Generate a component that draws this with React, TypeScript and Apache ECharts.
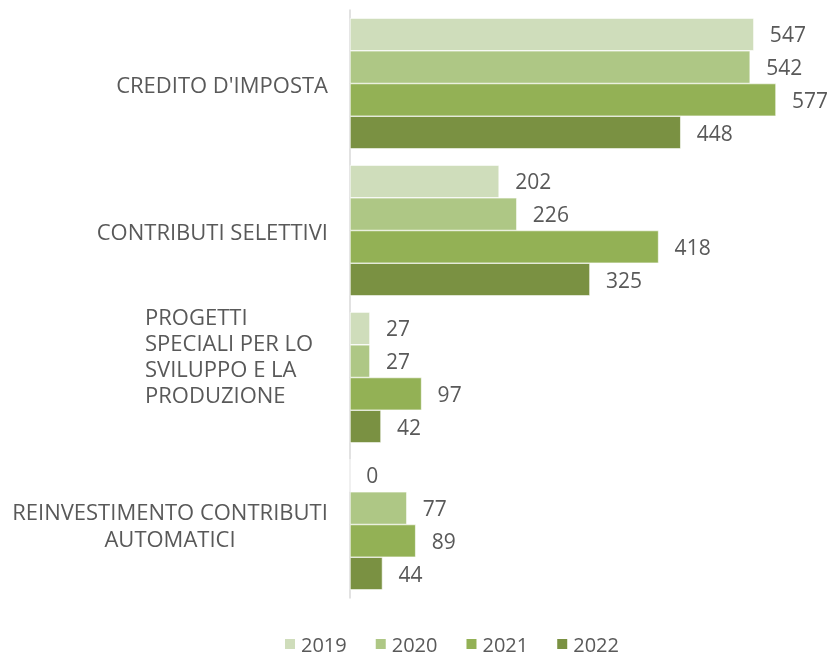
import React, { useEffect, useRef } from "react";
import * as echarts from "echarts";

const categories = [
  "CREDITO D'IMPOSTA",
  "CONTRIBUTI SELETTIVI",
  "PROGETTI SPECIALI PER LO SVILUPPO E LA PRODUZIONE",
  "REINVESTIMENTO CONTRIBUTI AUTOMATICI",
];
const years = ["2019", "2020", "2021", "2022"];
const values2019 = [547, 202, 27, 0];
const values2020 = [542, 226, 27, 77];
const values2021 = [577, 418, 97, 89];
const values2022 = [448, 325, 42, 44];
const colors = ["#CFDDBB", "#AEC785", "#93B155", "#7A9142"];

const FONT = "'Open Sans', sans-serif";
const TEXT = "#595959";

export default function App() {
  const ref = useRef<HTMLDivElement>(null);
  useEffect(() => {
    if (!ref.current) return;
    const chart = echarts.init(ref.current, undefined, { renderer: "svg" });
    const allValues = [values2019, values2020, values2021, values2022];
    chart.setOption({
      animation: false,
      grid: { left: 350, right: 38, top: 10, bottom: 59, containLabel: false },
      legend: {
        top: 634,
        left: 283,
        itemWidth: 12,
        itemHeight: 12,
        itemGap: 27,
        padding: 0,
        icon: "rect",
        textStyle: { fontFamily: FONT, fontSize: 20, color: TEXT, lineHeight: 18 },
        data: years,
      },
      xAxis: {
        type: "value",
        min: 0,
        max: 600,
        show: false,
      },
      yAxis: {
        type: "category",
        inverse: true,
        data: categories.map((c, i) =>
          i === 2 ? { value: c, textStyle: { padding: [0, 0, 46, 0] } } : c
        ),
        axisLine: { show: true, lineStyle: { color: "#D9D9D9", width: 1.5 } },
        axisTick: { show: false },
        axisLabel: {
          margin: 22,
          fontFamily: FONT,
          fontSize: 22,
          color: TEXT,
          lineHeight: 26,
          formatter: (v: string, i: number) => {
            if (i === 2) return "{p|PROGETTI\nSPECIALI PER LO\nSVILUPPO E LA\nPRODUZIONE}";
            if (i === 3) return "{c|REINVESTIMENTO CONTRIBUTI\nAUTOMATICI}";
            return v;
          },
          rich: {
            p: { width: 183, align: "left", fontFamily: FONT, fontSize: 22, color: TEXT, lineHeight: 26 },
            c: { width: 316, align: "center", fontFamily: FONT, fontSize: 22, color: TEXT, lineHeight: 27 },
          },
        },
      },
      series: years.map((y, i) => ({
        name: y,
        type: "bar",
        data: allValues[i],
        barGap: "0%",
        barCategoryGap: "11%",
        itemStyle: { color: colors[i], borderColor: "#ffffff", borderWidth: 0.6 },
        label: {
          show: true,
          position: "right",
          distance: 16,
          fontFamily: FONT,
          fontSize: 21,
          color: TEXT,
        },
      })),
    });
    return () => chart.dispose();
  }, []);
  return (
    <div
      ref={ref}
      style={{ position: "fixed", left: 0, top: 0, width: 831, height: 657 }}
    />
  );
}
